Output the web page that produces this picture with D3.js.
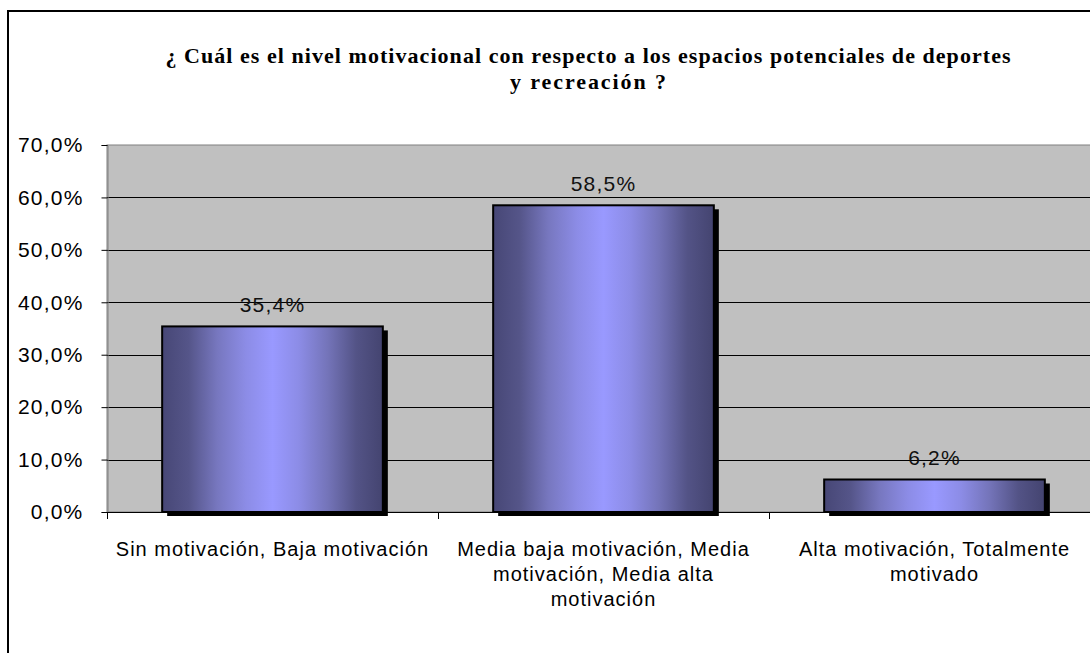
<!DOCTYPE html>
<html>
<head>
<meta charset="utf-8">
<script src="https://cdn.jsdelivr.net/npm/d3@7"></script>
<style>
  html, body { margin: 0; padding: 0; background: #fff; }
  svg { display: block; }
</style>
</head>
<body>
<svg id="chart" width="1090" height="653"></svg>
<script>
// Survey answers: motivation level regarding sports and recreation spaces
const categories = [
  ["Sin motivación, Baja motivación"],
  ["Media baja motivación, Media", "motivación, Media alta", "motivación"],
  ["Alta motivación, Totalmente", "motivado"]
];
const values = [35.4, 58.5, 6.2];
const valueLabels = ["35,4%", "58,5%", "6,2%"];
const yTicks = [0, 10, 20, 30, 40, 50, 60, 70];
const titleLines = [
  "¿ Cuál es el nivel motivacional con respecto a los espacios potenciales de deportes",
  "y recreación ?"
];
const titleWidths = [845, 156];

const svg = d3.select("#chart");

// Outer chart frame (runs off the right and bottom of the view)
svg.append("rect")
  .attr("x", 8).attr("y", 11)
  .attr("width", 1200).attr("height", 800)
  .attr("fill", "#fff").attr("stroke", "#000").attr("stroke-width", 2);

const plot = { left: 107, top: 145, right: 1100, bottom: 512 };

const x = d3.scaleBand()
  .domain(d3.range(categories.length))
  .range([plot.left, plot.right])
  .paddingInner(1 / 3).paddingOuter(1 / 6);

const y = d3.scaleLinear().domain([0, 70]).range([plot.bottom, plot.top]);

const sans = "Liberation Sans, Arial, sans-serif";

// Plot area background
svg.append("rect")
  .attr("x", plot.left).attr("y", plot.top)
  .attr("width", plot.right - plot.left).attr("height", plot.bottom - plot.top)
  .attr("fill", "#c0c0c0").attr("stroke", "#808080").attr("stroke-width", 1);

// Horizontal gridlines
svg.append("g")
  .selectAll("line")
  .data(yTicks.filter(t => t > 0 && t < 70))
  .join("line")
  .attr("x1", plot.left).attr("x2", plot.right)
  .attr("y1", d => Math.round(y(d)) + 0.5).attr("y2", d => Math.round(y(d)) + 0.5)
  .attr("stroke", "#000").attr("stroke-width", 1);

// Y axis
const yAxis = d3.axisLeft(y)
  .tickValues(yTicks)
  .tickSize(6)
  .tickPadding(18)
  .tickFormat(d => d.toFixed(1).replace(".", ",") + "%");
const yg = svg.append("g")
  .attr("transform", `translate(${plot.left + 0.5},0)`)
  .call(yAxis);
yg.select(".domain").attr("stroke", "#808080");
yg.selectAll(".tick line").attr("stroke", "#000");
yg.selectAll(".tick text")
  .attr("font-family", sans)
  .attr("font-size", 21)
  .attr("letter-spacing", 1.2)
  .attr("fill", "#000");

// X axis line with ticks at category boundaries
const boundaries = d3.range(categories.length + 1).map(i => plot.left + i * x.step());
svg.append("line")
  .attr("x1", plot.left).attr("x2", plot.right)
  .attr("y1", plot.bottom + 0.5).attr("y2", plot.bottom + 0.5)
  .attr("stroke", "#000");
svg.append("g").selectAll("line")
  .data(boundaries)
  .join("line")
  .attr("x1", d => Math.round(d) + 0.5).attr("x2", d => Math.round(d) + 0.5)
  .attr("y1", plot.bottom).attr("y2", plot.bottom + 7)
  .attr("stroke", "#000");

// Bar gradient: dark edges, light centre
const defs = svg.append("defs");
const grad = defs.append("linearGradient")
  .attr("id", "barGrad").attr("x1", "0%").attr("x2", "100%").attr("y1", "0%").attr("y2", "0%");
[
  [0, "#474776"], [0.12, "#555589"], [0.25, "#7777bf"], [0.38, "#8c8ce6"],
  [0.5, "#9999ff"], [0.62, "#8c8ce6"], [0.75, "#7474b9"], [0.88, "#535386"], [1, "#444470"]
].forEach(([o, c]) => grad.append("stop").attr("offset", o).attr("stop-color", c));

const bars = svg.append("g");
// Drop shadows
bars.selectAll("rect.shadow")
  .data(values)
  .join("rect")
  .attr("class", "shadow")
  .attr("x", (d, i) => x(i) + 5)
  .attr("y", d => y(d) + 4)
  .attr("width", x.bandwidth())
  .attr("height", d => plot.bottom - y(d))
  .attr("fill", "#000");
// Bars
bars.selectAll("rect.bar")
  .data(values)
  .join("rect")
  .attr("class", "bar")
  .attr("x", (d, i) => x(i))
  .attr("y", d => y(d))
  .attr("width", x.bandwidth())
  .attr("height", d => plot.bottom - y(d))
  .attr("fill", "url(#barGrad)")
  .attr("stroke", "#000").attr("stroke-width", 2);

// Value labels
svg.append("g").selectAll("text")
  .data(values)
  .join("text")
  .attr("x", (d, i) => x(i) + x.bandwidth() / 2)
  .attr("y", d => y(d) - 14)
  .attr("text-anchor", "middle")
  .attr("font-family", sans)
  .attr("font-size", 21)
  .attr("letter-spacing", 1.2)
  .attr("fill", "#111")
  .text((d, i) => valueLabels[i]);

// Category labels
const catG = svg.append("g").selectAll("text")
  .data(categories)
  .join("text")
  .attr("x", (d, i) => x(i) + x.bandwidth() / 2)
  .attr("y", 556)
  .attr("text-anchor", "middle")
  .attr("font-family", sans)
  .attr("font-size", 20)
  .attr("letter-spacing", 1)
  .attr("fill", "#000");
catG.selectAll("tspan")
  .data(d => d)
  .join("tspan")
  .attr("x", function () { return d3.select(this.parentNode).attr("x"); })
  .attr("dy", (d, j) => j === 0 ? 0 : 25)
  .text(d => d);

// Title
svg.append("text")
  .attr("font-family", "Liberation Serif, Times New Roman, serif")
  .attr("font-weight", "bold")
  .attr("font-size", 22)
  .attr("fill", "#000")
  .attr("text-anchor", "middle")
  .selectAll("tspan")
  .data(titleLines)
  .join("tspan")
  .attr("x", 588)
  .attr("y", (d, i) => 63 + i * 26)
  .attr("textLength", (d, i) => titleWidths[i])
  .attr("lengthAdjust", "spacing")
  .text(d => d);
</script>
</body>
</html>
